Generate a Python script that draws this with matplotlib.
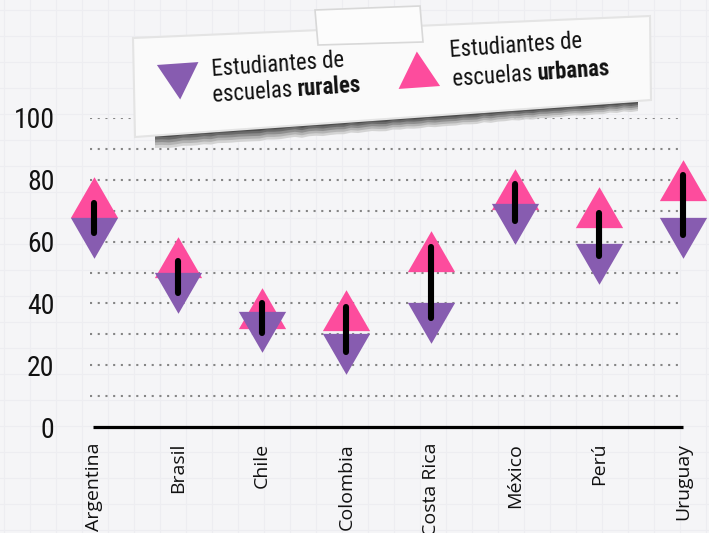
import matplotlib
matplotlib.use("Agg")
import matplotlib.pyplot as plt
import numpy as np
from matplotlib import font_manager as fm
from matplotlib.markers import MarkerStyle
from matplotlib.path import Path
from matplotlib.transforms import Affine2D
from matplotlib.patches import Polygon

# ---------------- data ----------------
countries = ['Argentina', 'Brasil', 'Chile', 'Colombia', 'Costa Rica', 'México', 'Perú', 'Uruguay']
rural = [63.4, 45.6, 32.9, 25.9, 35.9, 68.1, 54.9, 63.4]
urban = [72.1, 52.9, 36.2, 35.6, 54.8, 74.6, 69.0, 77.6]
# hand-drawn black strokes (top / bottom ends)
stroke_top = [72.6, 53.6, 40.0, 38.7, 58.4, 78.6, 69.1, 81.5]
stroke_bottom = [62.9, 43.5, 30.3, 24.4, 35.2, 66.8, 55.2, 62.0]
y_ticks = [0, 20, 40, 60, 80, 100]
grid_levels = [10, 20, 30, 40, 50, 60, 70, 80, 90, 100]
legend_rural = ['Estudiantes de', 'escuelas ', 'rurales']
legend_urban = ['Estudiantes de', 'escuelas ', 'urbanas']

# ---------------- fonts ----------------
avail = {f.name for f in fm.fontManager.ttflist}
def pick(*names):
    for n in names:
        if n in avail:
            return n
    return 'DejaVu Sans'
COND = pick('Roboto Condensed', 'Asap Condensed', 'Barlow Condensed', 'Archivo Narrow', 'Liberation Sans Narrow')
REG = pick('Open Sans', 'Noto Sans', 'DejaVu Sans')

PINK = '#fd4c9d'
PURPLE = '#875cb0'
BG = '#f5f5f7'

W, H = 709, 533
fig = plt.figure(figsize=(W / 100, H / 100), dpi=100)
fig.patch.set_facecolor(BG)

# background grid-paper axes
bg = fig.add_axes([0, 0, 1, 1], zorder=0)
bg.set_xlim(0, W)
bg.set_ylim(H, 0)
bg.axis('off')
for gx in np.arange(4, W, 26):
    bg.axvline(gx, color='#ededf1', lw=0.8)
for gy in np.arange(10, H, 26):
    bg.axhline(gy, color='#ededf1', lw=0.8)

# main axes: x pixel 88..690, y pixel 427 (0) .. 118 (100)
ax = fig.add_axes([88 / W, (H - 427) / H, (690 - 88) / W, (427 - 118) / H], zorder=1)
ax.patch.set_alpha(0)
x = np.arange(len(countries))
ax.set_xlim(-0.068, 7.082)
ax.set_ylim(0, 100)
for s in ax.spines.values():
    s.set_visible(False)

ax.hlines(grid_levels, -0.04, 6.95, colors='#858585', linewidth=1.5,
          linestyles=[(0, (1, 2.7))] * len(grid_levels), zorder=1)
ax.hlines([0], -0.01, 7.0, colors='black', linewidth=2.3, zorder=2, clip_on=False)

up = Path([(0, 1.1547), (-1, -0.57735), (1, -0.57735), (0, 1.1547)],
          [Path.MOVETO, Path.LINETO, Path.LINETO, Path.CLOSEPOLY])
down = Path([(0, -1.1547), (-1, 0.57735), (1, 0.57735), (0, -1.1547)],
            [Path.MOVETO, Path.LINETO, Path.LINETO, Path.CLOSEPOLY])

ax.plot(x, urban, linestyle='none', marker=up, markersize=39.3, color=PINK,
        markeredgewidth=0, zorder=3, clip_on=False)
ax.plot(x, rural, linestyle='none', marker=down, markersize=39.3, color=PURPLE,
        markeredgewidth=0, zorder=4, clip_on=False)
for xi, t, b in zip(x, stroke_top, stroke_bottom):
    ax.plot([xi, xi], [t, b], color='black', lw=4.4, solid_capstyle='round', zorder=5, clip_on=False)

ax.set_yticks(y_ticks)
ax.set_yticklabels([str(t) for t in y_ticks], fontfamily=COND, fontsize=20, color='#111111')
ax.set_xticks(x)
ax.set_xticklabels(countries, rotation=90, fontfamily=REG, fontsize=14, color='#111111',
                   ha='center', va='top')
ax.tick_params(axis='y', length=0, pad=24)
ax.tick_params(axis='x', length=0, pad=11.5)

# ---------------- legend note (pixel coordinates) ----------------
ov = fig.add_axes([0, 0, 1, 1], zorder=3)
ov.set_xlim(0, W)
ov.set_ylim(H, 0)
ov.axis('off')
ov.patch.set_alpha(0)

# shadow under the paper
sx = np.linspace(155, 638, 70)
top_y = np.interp(sx, [135, 650], [136, 100])
rng = np.random.default_rng(3)
jag = rng.uniform(-1.5, 1.5, sx.size)
thick = np.interp(sx, [155, 638], [14, 10])
for frac, col in [(1.0, '#d0d0d0'), (0.8, '#b0b0b0'), (0.6, '#8a8a8a'), (0.4, '#666666'), (0.22, '#4a4a4a')]:
    pts = list(zip(sx, top_y - 3 + jag)) + list(zip(sx[::-1], (top_y + thick * frac + jag * 0.5)[::-1]))
    ov.add_patch(Polygon(pts, closed=True, facecolor=col, edgecolor='none', alpha=0.9, zorder=1))

paper = Polygon([(133, 38), (650, 16), (651, 100), (135, 137)], closed=True,
                facecolor='#fafafa', edgecolor='#e4e4e4', lw=1.5, zorder=2)
ov.add_patch(paper)
tape = Polygon([(315, 10), (420, 6), (423, 42), (318, 45)], closed=True,
               facecolor='#fcfcfc', edgecolor='#d8d8d8', lw=1.2, zorder=3)
ov.add_patch(tape)

ang = 4.0
rot_t = Affine2D().rotate_deg(ang)
ov.plot([177.5], [75], linestyle='none', marker=MarkerStyle(down, transform=rot_t),
        markersize=34.6, color=PURPLE, markeredgewidth=0, zorder=4)
ov.plot([417.5], [74.7], linestyle='none', marker=MarkerStyle(up, transform=rot_t),
        markersize=34.6, color=PINK, markeredgewidth=0, zorder=4)

fig.canvas.draw()
renderer = fig.canvas.get_renderer()

def rich_line(x0, y0, parts, size=16.4):
    cx, cy = x0, y0
    for txt, wt in parts:
        ov.text(cx, cy, txt, fontfamily=COND, fontsize=size, fontweight=wt, color='#111111',
                rotation=ang, rotation_mode='anchor', ha='left', va='baseline', zorder=5)
        prop = fm.FontProperties(family=COND, size=size, weight=wt)
        w, _, _ = renderer.get_text_width_height_descent(txt, prop, ismath=False)
        cx += w * np.cos(np.radians(ang))
        cy -= w * np.sin(np.radians(ang))

rich_line(212, 76, [(legend_rural[0], 'normal')])
rich_line(213, 102, [(legend_rural[1], 'normal'), (legend_rural[2], 'bold')])
rich_line(450, 57, [(legend_urban[0], 'normal')])
rich_line(453, 86, [(legend_urban[1], 'normal'), (legend_urban[2], 'bold')])

fig.savefig('out.png', dpi=100, facecolor=BG)
